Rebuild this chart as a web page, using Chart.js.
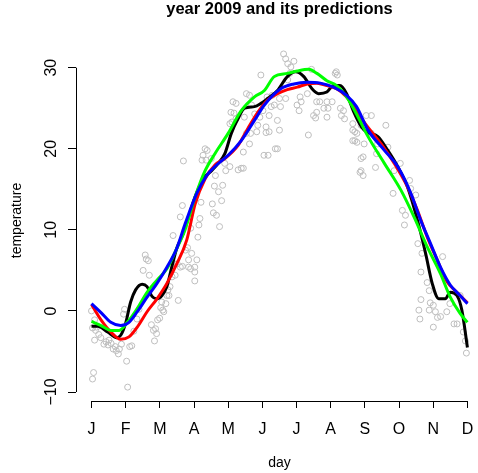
<!DOCTYPE html>
<html lang="en">
<head>
<meta charset="UTF-8">
<title>year 2009 and its predictions</title>
<script src="https://cdn.jsdelivr.net/npm/chart.js@4"></script>
<style>
  body { margin: 0; background: #fff; }
  #chart { display: block; }
</style>
</head>
<body>
<canvas id="chart" width="478" height="473"></canvas>
<script>
// axis ticks
const monthLabels = ['J', 'F', 'M', 'A', 'M', 'J', 'J', 'A', 'S', 'O', 'N', 'D'];
const monthTicks = [1, 34.1, 67.2, 100.3, 133.4, 166.5, 199.5, 232.6, 265.7, 298.8, 331.9, 365];
const tempTicks = [-10, 0, 10, 20, 30];

// observed daily temperatures (grey circles)
const obsDay = [
  1, 2, 4, 5, 4, 8, 10, 13, 15, 17, 18, 20, 22, 24, 25, 27, 28, 30, 32, 33, 35, 36, 38, 40, 42, 45, 47,
  51, 53, 54, 56, 57, 59, 61, 62, 63, 64, 65, 67, 68, 69, 71, 74, 75, 77, 79, 80, 82, 84, 85, 87, 89, 92,
  3, 2, 6, 94, 98, 103, 95, 101, 101, 82,
  70, 73, 76, 95, 97, 101, 87, 89, 97, 105, 104, 106, 107, 118, 119, 122, 125, 127, 124, 120, 128, 121,
  131, 143, 148, 90, 108, 109, 111, 113, 112, 117, 130, 135, 135, 137, 141, 139, 149, 151, 148, 155, 161,
  170, 168, 172, 151, 154, 162,
  187, 189, 191, 194, 197, 193, 165, 214, 237, 238, 239, 156, 171, 176, 183, 189, 203, 210, 204, 200, 202,
  219, 222, 229, 234, 226, 230, 216, 218, 229, 242, 245, 246, 243, 175, 178, 184, 159, 164, 173, 181, 183,
  173, 154, 181, 211, 258, 254, 262, 261, 264, 256, 191,
  138, 136, 141, 167, 170, 179, 146, 219, 264,
  254, 258, 265, 262, 286, 272, 278, 288, 277, 276, 294, 300, 309, 310, 315, 293, 302, 305, 304, 317, 321,
  341, 320, 326, 328, 320, 318, 319, 329, 328, 332, 334, 336, 345, 348, 358, 352, 355, 332, 361, 363, 364,
  272, 262, 339, 267, 254, 256
];
const obsTemp = [
  0.0, -2.1, -1.1, -2.4, -3.6, -2.9, -3.3, -4.1, -3.8, -4.2, -3.6, -4.0, -4.7, -4.4, -4.9, -5.3, -4.7, -4.1, -0.4, 0.2, -6.2, -9.4, -4.4, -4.3, -2.5, -1.0, 0.2,
  5.0, 6.9, 6.4, 6.2, 4.4, -1.7, -2.4, -3.7, -2.2, -2.8, -1.1, -0.9, 0.4, 1.1, -0.1, 1.9, 2.6, 3.0, 4.2, 9.3, 4.4, 5.8, 1.3, 5.4, 5.5, 7.5,
  -7.6, -8.4, -2.0, 7.8, 7.1, 6.3, 5.4, 5.4, 3.7, 5.8,
  0.1, 0.9, 1.9, 6.3, 5.2, 4.8, 11.6, 13.0, 10.2, 10.6, 9.1, 11.4, 13.4, 13.2, 12.1, 11.8, 10.4, 13.6, 14.7, 15.4, 15.5, 16.7,
  17.3, 17.4, 17.6, 18.5, 18.6, 19.2, 20.0, 19.8, 18.6, 18.8, 18.2, 17.8, 23.1, 23.3, 25.6, 24.4, 23.9, 21.9, 19.6, 21.9, 22.1,
  22.0, 19.2, 19.2, 26.8, 26.6, 22.9,
  31.7, 31.1, 30.5, 30.1, 30.8, 29.3, 29.1, 29.8, 29.3, 29.5, 29.1, 25.4, 26.4, 26.6, 26.2, 26.2, 26.4, 26.8, 25.8, 25.4, 24.7,
  25.8, 25.8, 25.8, 25.8, 25.0, 25.0, 24.1, 23.8, 23.9, 25.0, 24.7, 23.7, 24.1, 25.2, 25.4, 25.2, 24.3, 23.9, 24.1, 23.5, 22.3,
  22.1, 20.6, 20.0, 21.7, 20.8, 21.0, 18.8, 17.1, 16.7, 22.1, 28.5,
  25.8, 24.5, 23.7, 24.7, 22.7, 20.0, 17.6, 24.5, 19.0,
  23.1, 21.9, 20.6, 22.9, 22.9, 21.9, 20.6, 20.2, 19.4, 17.7, 17.3, 18.2, 16.1, 15.1, 14.3, 14.5, 12.4, 11.8, 10.6, 8.3, 7.1,
  6.7, 4.8, 3.5, 2.5, 1.4, 0.1, -1.0, 1.0, 0.1, 0.7, -0.1, -0.8, -0.1, 0.9, 1.9, -1.6, -1.6, -2.0, -2.6, -3.7, -5.2,
  24.1, 17.3, -0.7, 24.1, 22.3, 21.0
];

// predictions
const blackDay = [1, 7, 16.6, 25.5, 29.3, 34.1, 38.9, 43.7, 50.1, 54.8, 59.6, 64.4, 69.2, 74, 78.7, 83.5, 89.9, 101.4, 109.3, 117.3, 123.7, 130.1, 136.4, 142.8, 149.2, 158.8, 165.1, 171.5, 181.1, 190.6, 198.6, 206.6, 214.5, 220.9, 228.9, 235.3, 241.6, 248, 254.4, 262.4, 267.1, 278.3, 287.9, 297.5, 307, 316.6, 324.5, 330.9, 337.2, 343.6, 348.4, 354.8, 359.6, 365];
const blackTemp = [-1.9, -1.9, -2.6, -3.3, -3.0, -1.5, 1.1, 2.6, 3.3, 3.0, 1.8, 1.5, 1.9, 3.0, 5.4, 7.7, 9.6, 14.1, 16.3, 17.3, 18.2, 19.4, 21.9, 23.7, 25.0, 25.2, 25.6, 26.2, 27.2, 28.9, 29.5, 28.9, 27.4, 26.8, 27.0, 27.8, 27.8, 26.8, 24.7, 22.7, 22.1, 21.5, 19.8, 17.8, 15.3, 11.2, 7.1, 3.4, 1.5, 1.5, 2.3, 1.9, 0.1, -4.5];

const redDay = [1, 10.2, 19.7, 29.3, 37.3, 45.3, 54.8, 64.4, 74, 83.5, 93.1, 101.4, 111, 120.5, 130.1, 142.8, 152.4, 162, 171.5, 181.1, 190.6, 200.2, 209.8, 219.3, 228.9, 238.4, 248, 257.6, 266, 281.5, 294.2, 307, 316.6, 326.1, 335.7, 345.3, 354.8, 365];
const redTemp = [0.8, -1.1, -2.6, -3.5, -3.2, -2.0, -0.1, 1.5, 3.4, 5.8, 8.7, 13.2, 16.3, 18.0, 18.8, 20.4, 22.5, 24.5, 26.0, 26.8, 27.3, 27.6, 28.0, 28.1, 27.8, 27.4, 26.4, 24.7, 23.1, 20.6, 18.2, 15.3, 12.4, 9.1, 6.3, 3.6, 2.3, 1.0];

const greenDay = [1, 10.2, 19.7, 27.8, 35.7, 45.3, 54.8, 64.4, 74, 83.5, 91.5, 101.4, 111, 120.5, 133.3, 146, 158.8, 168.4, 177.9, 190.6, 200.2, 211.4, 219.3, 228.9, 238.4, 248, 257.6, 268.8, 284.6, 300.6, 313.3, 326.1, 338.9, 348.4, 357.9, 365];
const greenTemp = [-1.3, -1.8, -2.4, -2.4, -1.4, 0.3, 2.3, 3.8, 5.2, 7.7, 10.0, 14.1, 17.3, 19.4, 21.9, 24.7, 26.4, 27.2, 28.9, 29.3, 29.6, 29.8, 29.3, 28.4, 27.8, 26.4, 24.3, 21.5, 18.2, 14.9, 11.6, 7.9, 4.6, 1.7, -0.3, -1.4];

const blueDay = [1, 10.2, 19.7, 29.3, 37.3, 45.3, 54.8, 64.4, 74, 83.5, 91.8, 102.9, 112.5, 122.1, 133.3, 146, 158.8, 168.4, 184.2, 197, 209.8, 222.5, 235.3, 248, 257.6, 268.8, 284.6, 297.5, 310.2, 319.7, 329.3, 338.9, 348.4, 357.9, 365];
const blueTemp = [0.9, -0.2, -1.4, -1.8, -1.4, -0.1, 1.7, 3.4, 5.4, 7.7, 10.8, 14.5, 16.7, 18.0, 19.2, 21.0, 23.5, 25.4, 27.4, 28.0, 28.2, 28.1, 27.6, 26.6, 25.2, 22.3, 19.8, 17.8, 14.5, 11.2, 8.3, 5.4, 3.2, 1.9, 0.9];

const FONT = '"Liberation Sans", Arial, Helvetica, sans-serif';

function pts(xs, ys) {
  return xs.map((x, i) => ({ x: x, y: ys[i] }));
}

function curve(xs, ys, colour, order) {
  return {
    data: pts(xs, ys),
    showLine: true,
    borderColor: colour,
    borderWidth: 3,
    pointRadius: 0,
    cubicInterpolationMode: 'monotone',
    order: order
  };
}

// R-style axes: lines only between first and last tick, rotated y labels
const rAxes = {
  id: 'rAxes',
  afterDraw(chart) {
    const { ctx, chartArea, scales: { x, y } } = chart;
    ctx.save();
    ctx.strokeStyle = '#000';
    ctx.lineWidth = 1;
    ctx.beginPath();
    const ax = Math.round(chartArea.left) + 0.5;
    ctx.moveTo(ax, y.getPixelForValue(tempTicks[0]));
    ctx.lineTo(ax, y.getPixelForValue(tempTicks[tempTicks.length - 1]));
    const ay = Math.round(chartArea.bottom) + 0.5;
    ctx.moveTo(x.getPixelForValue(monthTicks[0]), ay);
    ctx.lineTo(x.getPixelForValue(monthTicks[monthTicks.length - 1]), ay);
    ctx.stroke();

    ctx.fillStyle = '#000';
    ctx.textAlign = 'center';
    ctx.textBaseline = 'alphabetic';

    ctx.font = '16px ' + FONT;
    monthTicks.forEach((d, i) => {
      ctx.fillText(monthLabels[i], x.getPixelForValue(d), 434);
    });
    tempTicks.forEach(t => {
      ctx.save();
      ctx.translate(56, y.getPixelForValue(t));
      ctx.rotate(-Math.PI / 2);
      ctx.fillText(t < 0 ? '\u2212' + Math.abs(t) : String(t), 0, 0);
      ctx.restore();
    });

    const midX = x.getPixelForValue(183);
    ctx.font = '14px ' + FONT;
    ctx.fillText('day', midX, 467);
    ctx.save();
    ctx.translate(20.5, (chartArea.top + chartArea.bottom) / 2);
    ctx.rotate(-Math.PI / 2);
    ctx.fillText('temperature', 0, 0);
    ctx.restore();

    ctx.font = 'bold 16.5px ' + FONT;
    ctx.fillText('year 2009 and its predictions', midX, 13.5);
    ctx.restore();
  }
};

new Chart(document.getElementById('chart'), {
  type: 'scatter',
  data: {
    datasets: [
      {
        data: pts(obsDay, obsTemp),
        pointStyle: 'circle',
        pointRadius: 3,
        borderWidth: 1,
        borderColor: '#bebebe',
        backgroundColor: 'rgba(0,0,0,0)',
        order: 5
      },
      curve(blackDay, blackTemp, '#000000', 4),
      curve(redDay, redTemp, '#ff0000', 3),
      curve(greenDay, greenTemp, '#00ff00', 2),
      curve(blueDay, blueTemp, '#0000ff', 1)
    ]
  },
  options: {
    responsive: false,
    animation: false,
    devicePixelRatio: 1,
    layout: { padding: { top: 40, left: 0, right: 0, bottom: 0 } },
    plugins: {
      legend: { display: false },
      tooltip: { enabled: false },
      title: { display: false }
    },
    scales: {
      x: {
        type: 'linear',
        min: -14.01,
        max: 370.4,
        afterFit(s) { s.height = 72; },
        afterBuildTicks(s) { s.ticks = monthTicks.map(v => ({ value: v })); },
        ticks: { display: false },
        grid: { drawOnChartArea: false, drawTicks: true, tickLength: 7, color: '#000', lineWidth: 1 },
        border: { display: false }
      },
      y: {
        type: 'linear',
        min: -11.11,
        max: 33.42,
        afterFit(s) { s.width = 76; },
        afterBuildTicks(s) { s.ticks = tempTicks.map(v => ({ value: v })); },
        ticks: { display: false },
        grid: { drawOnChartArea: false, drawTicks: true, tickLength: 8, color: '#000', lineWidth: 1 },
        border: { display: false }
      }
    }
  },
  plugins: [rAxes]
});
</script>
</body>
</html>
